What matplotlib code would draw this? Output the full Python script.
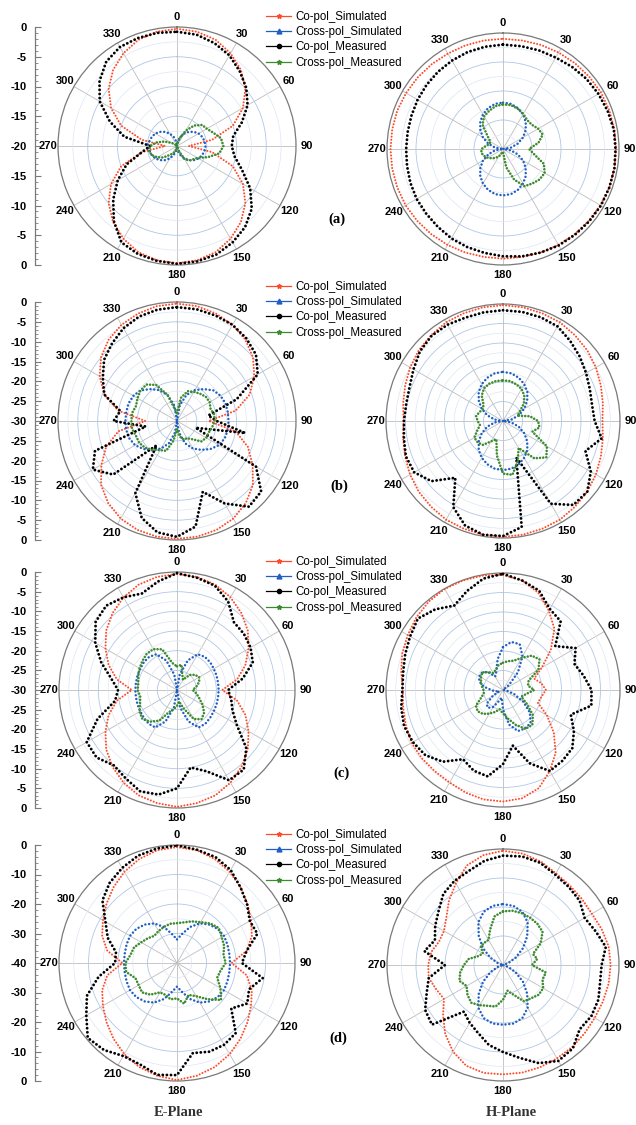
import matplotlib
matplotlib.use('Agg')
import matplotlib.pyplot as plt
from matplotlib.lines import Line2D
from matplotlib.ticker import MultipleLocator
import numpy as np

plt.rcParams['font.family'] = ['Liberation Sans', 'DejaVu Sans']

W, H = 636, 1125

# angles in degrees, clockwise from top
ANGLES = list(range(0, 360, 10))

SERIES_NAMES = ['Co-pol_Simulated', 'Cross-pol_Simulated', 'Co-pol_Measured', 'Cross-pol_Measured']
PANEL_LABELS = ['(a)', '(b)', '(c)', '(d)']
R_MIN = [-20, -30, -30, -40]
R_STEP = [5, 5, 5, 10]

# ---- (a) ----
A_E_CO_SIM = [-0.3, -0.5, -1.0, -2.0, -3.3, -5.0, -7.2, -10.0, -14.0, -18.0, -14.0, -10.0, -7.2, -5.0, -3.3, -2.0, -1.0, -0.5,
              -0.3, -0.5, -1.0, -2.0, -3.3, -5.0, -7.2, -10.0, -14.0, -18.0, -14.0, -10.0, -7.2, -5.0, -3.3, -2.0, -1.0, -0.5]
A_E_X_SIM = [-20.0, -19.2, -18.4, -17.6, -16.9, -16.3, -15.8, -15.5, -15.3, -15.2, -15.3, -15.5, -15.8, -16.3, -16.9, -17.6, -18.4, -19.2,
             -20.0, -19.2, -18.4, -17.6, -16.9, -16.3, -15.8, -15.5, -15.3, -15.0, -15.3, -15.5, -15.8, -16.3, -16.9, -17.6, -18.4, -19.2]
A_E_CO_MEAS = [-0.8, -1.0, -1.6, -2.4, -3.6, -4.8, -6.3, -8.4, -10.4, -10.8, -10.2, -8.4, -5.8, -3.6, -2.2, -1.3, -0.6, -0.3,
               -0.2, -0.4, -0.7, -1.3, -3.5, -6.0, -8.5, -11.0, -14.0, -15.5, -11.0, -8.0, -5.0, -3.0, -1.5, -0.8, -0.7, -0.7]
A_E_X_MEAS = [-20.0, -19.5, -18.5, -17.0, -15.5, -14.5, -14.2, -13.5, -12.5, -12.2, -12.8, -14.5, -16.0, -16.5, -16.8, -17.5, -19.0, -20.0,
              -20.0, -19.5, -19.0, -18.5, -18.0, -17.0, -16.2, -15.5, -15.2, -15.5, -16.5, -17.8, -19.0, -19.5, -20.0, -20.0, -20.0, -20.0]

A_H_CO_SIM = [-1.0, -1.0, -0.9, -0.8, -0.7, -0.6, -0.5, -0.5, -0.5, -0.5, -0.5, -0.5, -0.6, -0.7, -0.8, -0.9, -1.0, -1.1,
              -1.1, -1.1, -1.0, -0.9, -0.8, -0.7, -0.6, -0.6, -0.6, -0.6, -0.6, -0.6, -0.7, -0.8, -0.9, -1.0, -1.0, -1.0]
A_H_X_SIM = [-12.0, -12.1, -12.5, -13.1, -13.9, -14.9, -16.0, -17.3, -18.6, -20.0, -18.6, -17.3, -16.0, -14.9, -13.9, -13.1, -12.5, -12.1,
             -12.0, -12.1, -12.5, -13.1, -13.9, -14.9, -16.0, -17.3, -18.6, -20.0, -18.6, -17.3, -16.0, -14.9, -13.9, -13.1, -12.5, -12.1]
A_H_CO_MEAS = [-2.0, -2.0, -1.9, -1.8, -1.5, -1.2, -1.0, -0.8, -0.6, -0.6, -0.5, -0.5, -0.5, -0.6, -0.7, -0.8, -1.0, -1.2,
               -1.5, -1.8, -2.0, -2.2, -2.5, -2.7, -2.8, -3.0, -3.2, -3.3, -3.3, -3.2, -3.0, -2.8, -2.6, -2.4, -2.2, -2.1]
A_H_X_MEAS = [-12.3, -12.3, -12.6, -13.0, -13.5, -13.5, -13.0, -12.7, -13.8, -15.5, -14.5, -12.5, -11.7, -11.8, -12.2, -12.6, -14.4, -16.8,
              -19.5, -19.5, -19.0, -18.5, -18.0, -17.5, -17.0, -16.5, -16.2, -16.3, -17.0, -17.5, -17.5, -16.5, -14.5, -13.5, -13.0, -12.5]

# ---- (b) ----
B_E_CO_SIM = [-0.4, -0.6, -1.2, -2.0, -3.2, -5.0, -7.5, -10.5, -15.0, -22.0, -15.0, -11.0, -8.0, -5.0, -3.0, -1.6, -0.8, -0.4,
              -0.3, -0.4, -0.8, -1.6, -3.0, -5.0, -8.0, -11.0, -15.0, -22.0, -15.0, -10.5, -7.5, -5.0, -3.2, -2.0, -1.2, -0.6]
B_E_X_SIM = [-30.0, -26.0, -23.0, -21.0, -19.5, -18.0, -17.3, -17.0, -17.0, -17.0, -17.0, -17.2, -17.8, -19.0, -20.5, -22.0, -24.0, -27.0,
             -30.0, -27.0, -24.0, -22.0, -20.5, -19.0, -17.8, -17.2, -17.0, -17.0, -17.0, -17.0, -17.3, -18.0, -19.5, -21.0, -23.0, -26.0]
B_E_CO_MEAS = [-1.3, -1.4, -1.7, -2.0, -2.8, -4.0, -6.5, -14.0, -22.0, -20.0, -12.5, -25.0, -7.0, -2.3, -1.8, -6.0, -11.0, -3.0,
               -0.8, -1.5, -4.0, -9.0, -22.0, -9.0, -5.5, -8.0, -22.0, -14.0, -15.5, -10.5, -8.4, -6.0, -4.5, -3.0, -2.0, -1.5]
B_E_X_MEAS = [-28.0, -24.0, -22.0, -21.5, -21.0, -20.5, -20.5, -21.0, -20.5, -20.5, -21.0, -21.5, -21.5, -22.0, -24.0, -25.0, -25.0, -26.0,
              -28.0, -25.0, -22.0, -21.5, -20.5, -19.5, -19.0, -19.0, -18.5, -18.5, -18.5, -19.0, -18.5, -18.0, -18.0, -19.5, -23.0, -27.0]

B_H_CO_SIM = [-0.3, -0.4, -0.6, -0.8, -1.3, -1.8, -2.5, -3.3, -4.0, -4.5, -4.0, -3.3, -2.5, -1.8, -1.3, -0.8, -0.6, -0.4,
              -0.3, -0.4, -0.6, -0.8, -1.3, -1.8, -2.5, -3.3, -4.0, -4.5, -4.0, -3.3, -2.5, -1.8, -1.3, -0.8, -0.6, -0.4]
B_H_X_SIM = [-17.4, -17.6, -18.2, -19.1, -20.3, -21.9, -23.7, -25.7, -27.8, -30.0, -27.8, -25.7, -23.7, -21.9, -20.3, -19.1, -18.2, -17.6,
             -17.4, -17.6, -18.2, -19.1, -20.3, -21.9, -23.7, -25.7, -27.8, -30.0, -27.8, -25.7, -23.7, -21.9, -20.3, -19.1, -18.2, -17.6]
B_H_CO_MEAS = [-1.6, -1.6, -1.7, -2.0, -3.2, -4.3, -5.4, -6.3, -6.8, -6.5, -4.3, -7.5, -4.0, -1.8, -1.9, -5.5, -20.0, -2.4,
               -0.5, -0.4, -1.5, -4.5, -11.0, -6.0, -3.7, -3.5, -4.2, -4.6, -4.8, -4.5, -3.5, -2.2, -1.5, -1.5, -1.8, -1.7]
B_H_X_MEAS = [-19.6, -19.6, -20.0, -20.5, -21.5, -23.0, -25.0, -26.0, -23.0, -21.0, -20.5, -22.0, -17.0, -15.5, -17.5, -22.0, -19.0, -16.0,
              -16.5, -21.0, -25.0, -24.0, -22.0, -21.5, -21.5, -23.0, -24.0, -23.5, -23.0, -23.5, -24.0, -23.5, -21.5, -20.3, -19.8, -19.6]

# ---- (c) ----
C_E_CO_SIM = [-0.5, -0.8, -1.5, -2.8, -4.5, -6.5, -9.0, -11.5, -14.5, -18.5, -14.5, -11.5, -9.0, -6.5, -4.5, -2.8, -1.5, -0.8,
              -0.3, -0.8, -1.5, -2.8, -4.5, -6.5, -9.0, -11.5, -14.5, -18.5, -14.5, -11.5, -9.0, -6.5, -4.5, -2.8, -1.5, -0.8]
C_E_X_SIM = [-30.0, -26.0, -22.0, -19.5, -19.0, -19.0, -19.2, -19.3, -19.4, -19.4, -19.4, -19.3, -19.2, -19.0, -18.8, -19.0, -21.5, -25.5,
             -30.0, -25.5, -21.5, -19.0, -18.8, -19.0, -19.2, -19.3, -19.4, -19.4, -19.4, -19.3, -19.2, -19.0, -19.0, -19.5, -22.0, -26.0]
C_E_CO_MEAS = [-0.3, -1.0, -1.8, -4.0, -7.5, -7.8, -8.4, -9.5, -13.0, -17.0, -16.0, -15.0, -12.5, -7.0, -3.6, -3.5, -8.0, -10.0,
               -5.0, -3.0, -2.6, -4.0, -5.0, -3.3, -3.5, -8.5, -14.0, -15.0, -13.0, -9.5, -6.0, -3.0, -2.0, -2.8, -3.9, -2.0]
C_E_X_MEAS = [-24.0, -23.5, -26.0, -27.0, -25.0, -24.0, -23.5, -24.0, -25.0, -26.0, -25.0, -24.0, -22.5, -21.0, -20.3, -21.5, -25.0, -27.0,
              -26.0, -25.0, -24.0, -21.0, -19.5, -18.5, -19.0, -20.0, -20.5, -20.0, -20.0, -19.5, -19.0, -18.5, -18.0, -18.0, -19.0, -23.0]

C_H_CO_SIM = [-0.5, -1.5, -3.5, -6.5, -9.5, -14.0, -18.5, -21.5, -20.0, -19.0, -20.0, -20.5, -17.0, -13.0, -9.0, -6.0, -3.2, -1.8,
              -1.4, -1.5, -2.0, -2.6, -2.8, -2.8, -2.9, -3.5, -4.0, -4.3, -3.5, -2.5, -1.8, -1.0, -0.4, -0.1, -0.1, -0.2]
C_H_X_SIM = [-19.0, -17.5, -17.5, -20.0, -24.0, -28.0, -30.0, -30.0, -30.0, -30.0, -29.0, -27.0, -24.0, -21.0, -19.0, -18.6, -18.8, -21.0,
             -25.0, -28.0, -27.0, -25.0, -24.0, -24.5, -27.0, -29.0, -28.0, -27.0, -25.0, -23.5, -23.0, -23.0, -24.0, -26.0, -25.0, -22.0]
C_H_CO_MEAS = [-0.2, -1.5, -2.9, -6.0, -7.0, -12.5, -8.5, -10.5, -9.0, -7.3, -7.0, -11.5, -9.0, -6.8, -6.3, -6.0, -10.0, -15.5,
               -11.0, -7.5, -8.0, -9.5, -6.0, -4.0, -3.3, -3.0, -3.5, -4.2, -4.0, -3.3, -2.5, -1.5, -3.0, -5.0, -3.0, -1.0]
C_H_X_MEAS = [-23.0, -22.5, -22.0, -20.5, -18.5, -17.8, -19.5, -23.0, -23.5, -22.0, -24.0, -25.0, -23.0, -20.0, -18.3, -18.5, -20.5, -22.5,
              -24.0, -25.0, -24.0, -23.0, -22.0, -21.5, -22.0, -24.0, -25.0, -25.0, -24.5, -24.0, -23.5, -23.0, -24.0, -25.0, -24.5, -23.5]

# ---- (d) ----
D_E_CO_SIM = [-0.7, -1.2, -2.5, -4.3, -6.5, -8.8, -11.0, -13.0, -16.0, -21.5, -16.0, -13.0, -11.0, -8.8, -6.5, -4.3, -2.5, -1.2,
              -0.3, -1.2, -2.5, -4.3, -6.5, -8.8, -11.0, -13.0, -16.0, -21.5, -16.0, -13.0, -11.0, -8.8, -6.5, -4.3, -2.5, -1.2]
D_E_X_SIM = [-32.0, -30.0, -27.0, -24.5, -23.0, -22.0, -21.6, -21.8, -22.0, -22.0, -22.0, -21.8, -21.6, -22.0, -23.0, -24.5, -27.0, -30.0,
             -32.0, -30.0, -27.0, -24.5, -23.0, -22.0, -21.6, -21.8, -22.0, -22.0, -22.0, -21.8, -21.6, -22.0, -23.0, -24.5, -27.0, -30.0]
D_E_CO_MEAS = [-0.1, -1.0, -1.8, -3.6, -6.5, -9.0, -11.5, -11.0, -16.0, -18.0, -10.5, -14.0, -12.5, -16.0, -9.0, -8.0, -8.0, -9.0,
               -2.0, -1.5, -3.4, -3.6, -1.5, -0.5, -4.5, -7.5, -13.0, -19.0, -19.0, -15.0, -12.0, -7.0, -4.5, -2.8, -1.3, -0.6]
D_E_X_MEAS = [-26.5, -26.0, -25.0, -24.0, -22.5, -21.5, -22.5, -23.0, -24.0, -23.5, -25.0, -25.5, -23.0, -20.5, -24.0, -27.0, -28.5, -26.0,
              -28.0, -27.5, -28.5, -28.5, -26.0, -24.5, -25.0, -25.0, -22.5, -22.5, -24.0, -24.5, -26.0, -27.0, -28.0, -27.5, -27.0, -26.5]

D_H_CO_SIM = [-0.6, -1.0, -2.0, -3.5, -4.2, -4.5, -4.6, -3.8, -3.0, -2.9, -3.0, -3.3, -3.5, -3.3, -3.0, -2.8, -2.5, -2.3,
              -2.3, -2.2, -3.0, -5.5, -9.0, -13.0, -16.5, -15.5, -14.0, -14.2, -14.8, -16.5, -16.5, -14.5, -11.0, -7.5, -3.5, -1.5]
D_H_X_SIM = [-19.0, -19.3, -20.5, -23.0, -27.0, -31.0, -35.0, -38.0, -40.0, -40.0, -40.0, -38.0, -35.0, -31.0, -27.0, -23.0, -20.5, -19.5,
             -19.4, -19.5, -20.5, -23.0, -27.0, -31.0, -35.0, -38.0, -40.0, -40.0, -40.0, -38.0, -35.0, -31.0, -27.0, -23.0, -20.5, -19.3]
D_H_CO_MEAS = [-2.3, -2.0, -2.5, -4.0, -4.8, -5.5, -7.5, -6.0, -4.0, -6.0, -6.0, -5.0, -4.8, -5.5, -2.5, -1.8, -4.0, -7.5,
               -10.0, -12.0, -15.0, -17.0, -19.0, -8.0, -9.0, -12.0, -14.0, -20.0, -12.5, -15.0, -13.0, -11.0, -8.0, -6.5, -5.5, -3.5]
D_H_X_MEAS = [-21.5, -21.0, -21.0, -21.2, -21.5, -22.2, -25.0, -29.0, -28.0, -30.0, -25.0, -25.5, -24.0, -24.0, -25.0, -25.5, -29.0, -31.0,
              -28.0, -25.5, -25.0, -24.0, -23.0, -24.0, -25.5, -24.0, -25.0, -26.5, -28.0, -31.0, -32.0, -30.0, -30.0, -30.0, -27.0, -23.0]

E_PLANE = [
    [A_E_CO_SIM, A_E_X_SIM, A_E_CO_MEAS, A_E_X_MEAS],
    [B_E_CO_SIM, B_E_X_SIM, B_E_CO_MEAS, B_E_X_MEAS],
    [C_E_CO_SIM, C_E_X_SIM, C_E_CO_MEAS, C_E_X_MEAS],
    [D_E_CO_SIM, D_E_X_SIM, D_E_CO_MEAS, D_E_X_MEAS],
]
H_PLANE = [
    [A_H_CO_SIM, A_H_X_SIM, A_H_CO_MEAS, A_H_X_MEAS],
    [B_H_CO_SIM, B_H_X_SIM, B_H_CO_MEAS, B_H_X_MEAS],
    [C_H_CO_SIM, C_H_X_SIM, C_H_CO_MEAS, C_H_X_MEAS],
    [D_H_CO_SIM, D_H_X_SIM, D_H_CO_MEAS, D_H_X_MEAS],
]

COLORS = ['#FF4A2A', '#1F5FC4', '#000000', '#3D8B2F']
DOT_SIZE = [1.5, 1.8, 2.1, 1.9]
DOT_GAP = [1.5, 1.5, 1.4, 1.2]
MARKERS = ['*', '^', 'o', '*']

# layout in pixels: (center x, center y, radius)
E_POS = [(177, 146, 119), (177, 421, 119), (177, 690, 118), (177, 963, 118)]
H_POS = [(503, 149, 116), (503, 421, 117), (503, 690, 117), (503, 965, 116)]
LEGEND_TOP = [11, 281, 556, 829]
LABEL_POS = [(337, 219), (339, 486), (341, 773), (338, 1038)]

fig = plt.figure(figsize=(W / 100, H / 100), dpi=100)


def polar_axes(cx, cy, R, rmin, step):
    ax = fig.add_axes([(cx - R) / W, 1 - (cy + R) / H, 2 * R / W, 2 * R / H], projection='polar')
    ax.set_theta_zero_location('N')
    ax.set_theta_direction(-1)
    ax.set_ylim(rmin, 0)
    ax.set_yticks(np.arange(rmin + step, 0, step))
    ax.set_yticklabels([])
    ax.yaxis.set_minor_locator(MultipleLocator(step / 2))
    ax.grid(axis='y', which='major', color='#AFC7E8', lw=0.6)
    ax.grid(axis='y', which='minor', color='#DCE6F3', lw=0.5)
    ax.tick_params(axis='y', which='both', length=0)
    ax.set_xticks(np.deg2rad(np.arange(0, 360, 30)))
    ax.set_xticklabels([str(a) for a in range(0, 360, 30)], fontsize=8, fontweight='bold')
    ax.tick_params(axis='x', pad=-3)
    ax.grid(axis='x', color='#BDBDBD', lw=0.6)
    ax.spines['polar'].set_color('#7A7A7A')
    ax.spines['polar'].set_linewidth(0.9)
    return ax


def draw_series(ax, series):
    theta = np.deg2rad(ANGLES + [360])
    for vals, c, s, g in zip(series, COLORS, DOT_SIZE, DOT_GAP):
        r = list(vals) + [vals[0]]
        ax.plot(theta, r, color=c, lw=s, linestyle=(0, (0.01, g)),
                dash_capstyle='round', zorder=3)


def radial_scale(cx, cy, R, rmin, step, minor):
    span = -rmin
    axl = fig.add_axes([35 / W, 1 - (cy + R) / H, 0.0001, 2 * R / H])
    axl.set_ylim(-span, span)
    for s in ['top', 'right', 'bottom']:
        axl.spines[s].set_visible(False)
    axl.spines['left'].set_color('#7A7A7A')
    axl.spines['left'].set_linewidth(0.9)
    ticks = np.arange(-span, span + 1, step)
    axl.set_yticks(ticks)
    axl.set_yticklabels([f"{int(abs(v) - span)}" for v in ticks], fontsize=8, fontweight='bold')
    axl.yaxis.set_minor_locator(MultipleLocator(minor))
    axl.tick_params(axis='y', which='major', direction='in', length=4, width=0.8, color='#7A7A7A', pad=6)
    axl.tick_params(axis='y', which='minor', direction='in', length=2, width=0.6, color='#7A7A7A')
    axl.set_xticks([])


handles = [Line2D([0], [0], color=c, lw=0.9, marker=m, markersize=3.5 if m != 'o' else 3)
           for c, m in zip(COLORS, MARKERS)]

for i in range(4):
    cx, cy, R = E_POS[i]
    ax = polar_axes(cx, cy, R, R_MIN[i], R_STEP[i])
    draw_series(ax, E_PLANE[i])
    radial_scale(cx, cy, R, R_MIN[i], R_STEP[i], 1 if R_STEP[i] == 5 else 2)

    cx, cy, R = H_POS[i]
    ax = polar_axes(cx, cy, R, R_MIN[i], R_STEP[i])
    draw_series(ax, H_PLANE[i])

    fig.legend(handles, SERIES_NAMES, loc='upper left', bbox_to_anchor=(266 / W, 1 - LEGEND_TOP[i] / H),
               frameon=False, fontsize=8.3, handlelength=2.2, handletextpad=0.35, labelspacing=0.28,
               borderpad=0, borderaxespad=0)

    lx, ly = LABEL_POS[i]
    fig.text(lx / W, 1 - ly / H, PANEL_LABELS[i], ha='center', va='center',
             fontsize=10.5, fontweight='bold', family='Liberation Serif')

fig.text(178 / W, 1 - 1113 / H, 'E-Plane', ha='center', va='center', fontsize=10.5,
         fontweight='bold', family='Liberation Serif', color='#333333')
fig.text(511 / W, 1 - 1113 / H, 'H-Plane', ha='center', va='center', fontsize=10.5,
         fontweight='bold', family='Liberation Serif', color='#333333')

fig.savefig('out.png', dpi=100)
